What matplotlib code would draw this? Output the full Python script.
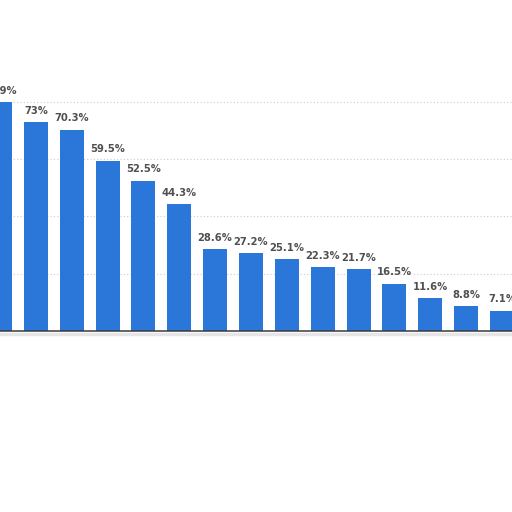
import matplotlib.pyplot as plt
import numpy as np

values = [79.9, 73, 70.3, 59.5, 52.5, 44.3, 28.6, 27.2, 25.1, 22.3, 21.7, 16.5, 11.6, 8.8, 7.1]
labels = ["79.9%", "73%", "70.3%", "59.5%", "52.5%", "44.3%", "28.6%", "27.2%",
          "25.1%", "22.3%", "21.7%", "16.5%", "11.6%", "8.8%", "7.1%"]
grid_levels = [20, 40, 60, 80]

fig = plt.figure(figsize=(5.12, 5.12), dpi=100)
ax = fig.add_axes([0, 0, 1, 1])
ax.set_xlim(0, 14.28)
ax.set_ylim(-63.2, 115.6)
ax.axis("off")

x = np.arange(len(values))

# dotted grid lines behind the bars
for g in grid_levels:
    ax.axhline(g, color="#cccccc", lw=0.8, ls=(0, (1, 2)), zorder=0)

ax.bar(x, values, width=0.67, color="#2b77d9", zorder=2)

# baseline with a soft shadow under it
ax.axhline(-1.0, color="#e6e6e6", lw=2.5, zorder=1)
ax.axhline(0, color="#3a3a3a", lw=1.1, zorder=3)

for xi, v, lab in zip(x, values, labels):
    ax.text(xi, v + 2.2, lab, ha="center", va="bottom", fontsize=7.2,
            fontweight="bold", color="#505050", zorder=4)

fig.savefig("out.png", dpi=100)
